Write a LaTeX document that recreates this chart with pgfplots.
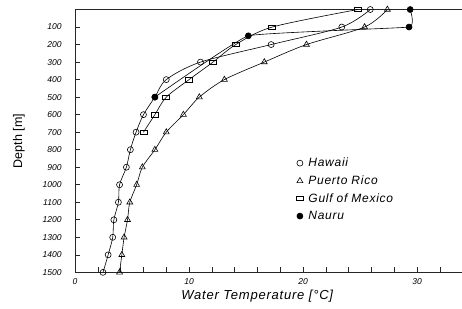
\documentclass[border=0pt]{standalone}
\usepackage{fontspec}
\setmainfont{Liberation Sans}
\newfontfamily\lblfont[LetterSpace=6]{Liberation Sans}
\usepackage{pgfplots}
\pgfplotsset{compat=1.18}
\pgfplotstableread{
T D
25.9 0
23.4 100
17.2 200
11.0 300
8.0 400
7.0 500
6.0 600
5.35 700
4.85 800
4.5 900
3.9 1000
3.8 1100
3.4 1200
3.3 1300
2.9 1400
2.45 1500
}\hawaii
\pgfplotstableread{
T D
27.4 0
25.4 100
20.3 200
16.6 300
13.1 400
10.9 500
9.5 600
8.0 700
7.0 800
5.9 900
5.4 1000
4.8 1100
4.6 1200
4.3 1300
4.1 1400
3.9 1500
}\puerto
\pgfplotstableread{
T D
24.8 0
17.3 100
14.1 200
12.1 300
10.0 400
8.0 500
7.0 600
6.0 700
}\gulf
\pgfplotstableread{
T D
29.4 0
29.3 100
15.2 150
7.0 500
}\nauru
\begin{document}
\begin{tikzpicture}
\begin{axis}[
  name=ax,
  scale only axis,
  width=387pt, height=262.5pt,
  xmin=0, xmax=34, ymin=0, ymax=1500,
  y dir=reverse,
  axis line style={line width=0.8pt, black!85},
  xtick={0,10,20,30},
  minor xtick={2,4,6,8,12,14,16,18,22,24,26,28,32},
  ytick={100,200,...,1500},
  xtick pos=lower, ytick pos=left,
  tick align=inside,
  major tick length=5pt, minor tick length=5pt,
  tick style={black!85, line width=0.6pt},
  /pgf/number format/assume math mode=true,
  /pgf/number format/1000 sep={},
  ticklabel style={font=\itshape\fontsize{8.5}{9}\selectfont},
  yticklabel style={xshift=-10pt},
  xticklabel style={yshift=-3pt},
  xlabel={Water Temperature [°C]},
  xlabel style={font=\lblfont\itshape\fontsize{13}{13}\selectfont, at={(axis description cs:0.47,0)}, anchor=north, yshift=-14pt},
  ylabel={Depth [m]},
  ylabel style={font=\fontsize{12.5}{13}\selectfont, at={(axis description cs:-0.145,0.5)}, anchor=center},
  legend style={draw=none, fill=none, at={(axis cs:19.4,835)}, anchor=north west,
    font=\lblfont\itshape\fontsize{12}{12}\selectfont, row sep=3.5pt, inner sep=0pt,
    /tikz/every odd column/.append style={column sep=3pt}},
  legend cell align=left,
  every axis plot/.append style={black, line width=0.6pt},
]
\addlegendimage{only marks, black, mark=o, mark size=3pt}
\addlegendimage{only marks, black, mark=triangle, mark size=3.4pt}
\addlegendimage{only marks, black, mark=square, mark size=2.6pt, mark options={xscale=1.35, yscale=0.85}}
\addlegendimage{only marks, black, mark=*, mark size=3pt}
\addplot[forget plot, smooth, tension=0.5, mark=o, mark size=3pt] table[x=T,y=D] {\hawaii};
\addplot[forget plot, smooth, tension=0.5, mark=triangle, mark size=3.4pt] table[x=T,y=D] {\puerto};
\addplot[forget plot, smooth, tension=0.5, mark=square, mark size=2.6pt, mark options={xscale=1.35, yscale=0.85}] table[x=T,y=D] {\gulf};
\addplot[forget plot, smooth, tension=0.15, mark=*, mark size=3pt] table[x=T,y=D] {\nauru};
\legend{Hawaii, Puerto Rico, Gulf of Mexico, Nauru}
\end{axis}
\pgfresetboundingbox
\path ([xshift=-75pt, yshift=-36pt]ax.south west) rectangle ([xshift=-0.6pt, yshift=9.5pt]ax.north east);
\end{tikzpicture}
\end{document}
